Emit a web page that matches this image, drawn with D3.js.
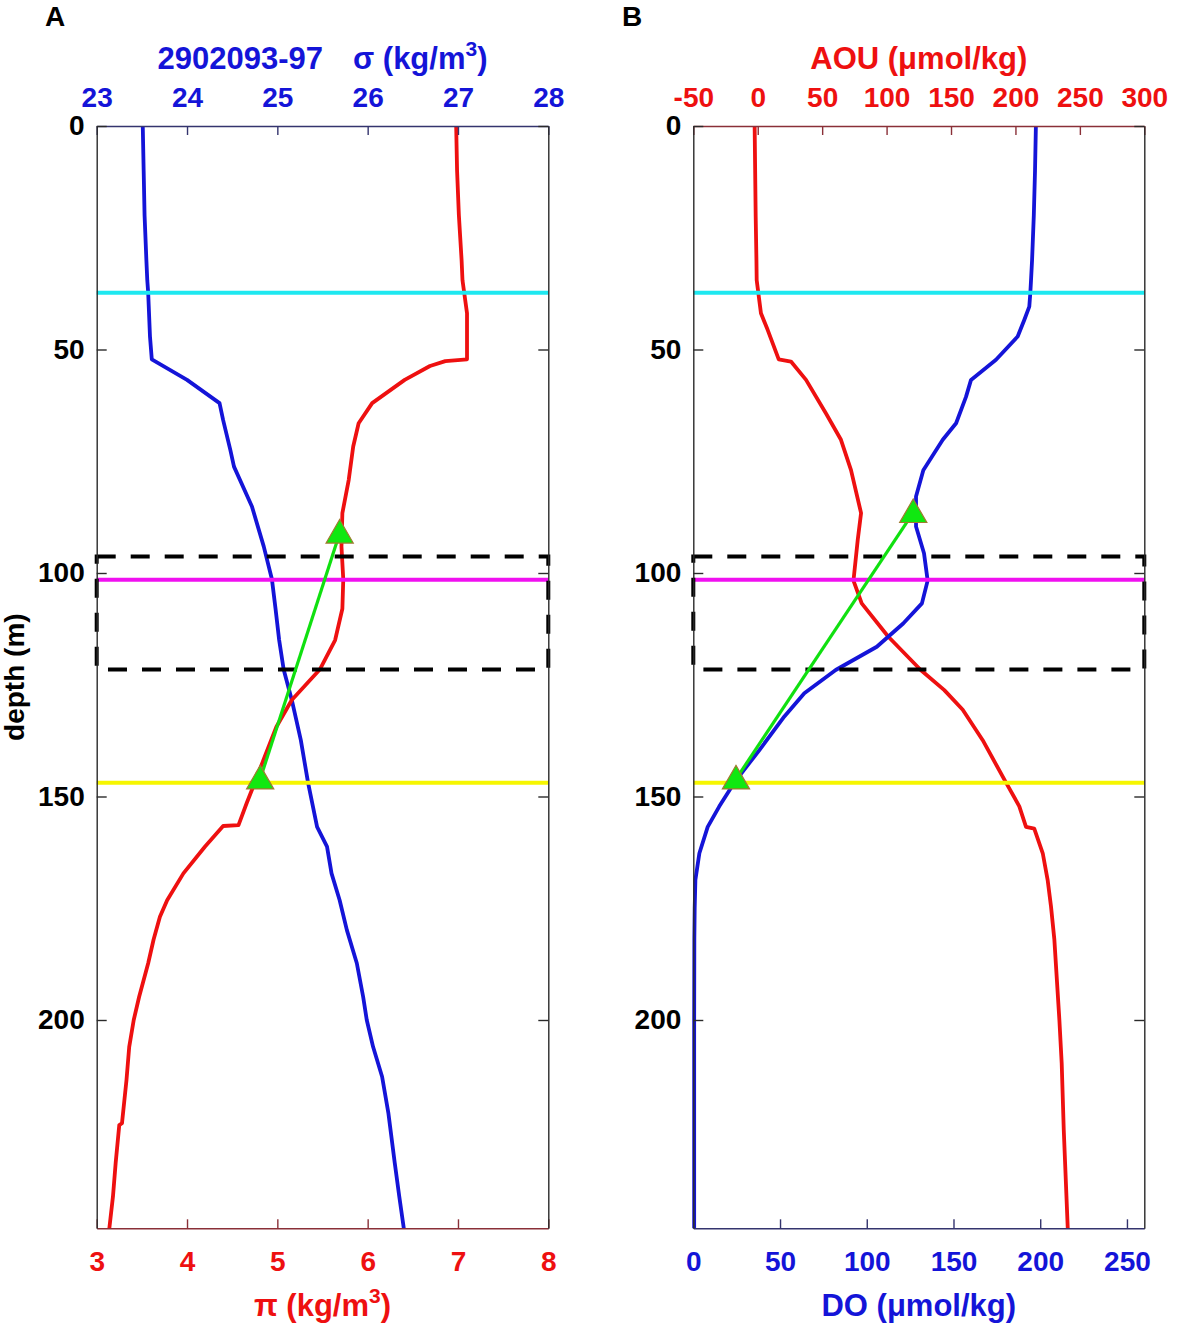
<!DOCTYPE html>
<html>
<head>
<meta charset="utf-8">
<script src="https://cdn.jsdelivr.net/npm/d3@7"></script>
<style>
  body { margin: 0; background: #fff; }
  svg { display: block; }
  text { font-family: "Liberation Sans", Arial, sans-serif; font-weight: bold; }
</style>
</head>
<body>
<div id="chart"></div>
<script>
// ---- data ----
// panel A: potential density sigma (top axis) and spiciness pi (bottom axis)
const sigmaDepth = [0, 10, 20, 30, 34.5, 37.3, 47.1, 52.2, 56.8, 62.0, 65.8, 72.5, 76.2, 85.2, 94.1, 101.4, 108, 115, 121.6, 128.4, 137.4, 146.9, 156.8, 161.2, 167.2, 173.2, 179.9, 187.3, 194.8, 200, 206, 212.7, 220.9, 232, 239.5, 246.6];
const sigmaVals  = [23.51, 23.52, 23.53, 23.55, 23.56, 23.57, 23.59, 23.61, 24.00, 24.36, 24.40, 24.48, 24.52, 24.72, 24.85, 24.94, 24.98, 25.02, 25.07, 25.16, 25.26, 25.34, 25.44, 25.55, 25.60, 25.69, 25.77, 25.88, 25.95, 25.99, 26.06, 26.16, 26.23, 26.30, 26.35, 26.40];

const piDepth = [0, 10, 20, 30, 34.5, 41.9, 52.2, 52.6, 53.7, 56.8, 62, 66.5, 71.7, 79.2, 86.6, 94.1, 101.4, 108, 115, 121.6, 128.4, 134.4, 141.1, 146.9, 151.5, 156.4, 156.6, 161.2, 167.2, 173.2, 176.9, 182, 187.3, 194.8, 200, 206, 213.4, 223.1, 223.5, 232, 239.5, 246.6];
const piVals  = [6.98, 6.99, 7.01, 7.04, 7.05, 7.10, 7.10, 6.86, 6.69, 6.41, 6.05, 5.90, 5.84, 5.79, 5.72, 5.71, 5.73, 5.72, 5.64, 5.47, 5.16, 4.99, 4.86, 4.75, 4.66, 4.57, 4.40, 4.20, 3.96, 3.78, 3.70, 3.63, 3.57, 3.47, 3.41, 3.36, 3.33, 3.28, 3.25, 3.21, 3.18, 3.14];

// panel B: AOU (top axis) and dissolved oxygen (bottom axis)
const aouDepth = [0, 10, 20, 30, 34.5, 41.9, 45.6, 52.2, 52.7, 56.8, 64.3, 70.2, 77.0, 86.6, 92.6, 101.7, 106.8, 114.2, 121.7, 126.2, 130.6, 137.4, 146.9, 152.2, 156.8, 157.2, 162.7, 168.7, 174.6, 182, 200, 209.7, 224.6, 246.6];
const aouVals  = [-2.4, -2.0, -1.6, -1.0, -0.8, 2.5, 7.7, 16.3, 25.8, 37.5, 53.0, 64.6, 72.4, 80.2, 77.6, 74.3, 80.7, 101.2, 126.5, 144.8, 159.1, 174.6, 192.7, 203.0, 208.2, 214.6, 221.2, 225.0, 227.6, 230.2, 234.1, 235.9, 237.5, 240.6];

const doDepth = [0, 10, 20, 30, 34.5, 37.3, 40.4, 43.4, 47.1, 52.3, 56.8, 60.6, 66.5, 70.2, 77.0, 82.9, 89.6, 95.6, 101.7, 106.8, 111.3, 116.5, 121.7, 126.9, 132.1, 139.6, 146.9, 152.2, 156.8, 162.7, 168.7, 175, 182, 200, 246.6];
const doVals  = [197.5, 197.0, 196.3, 195.3, 194.7, 194.3, 193.7, 190.8, 187.0, 174.5, 160.1, 157.2, 151.5, 143.8, 132.6, 128.4, 128.4, 133.0, 135.1, 131.8, 121.0, 105.8, 82.1, 64.0, 52.5, 38.1, 23.6, 15.0, 8.3, 3.5, 1.2, 0.8, 0.6, 0.5, 0.5];

// reference depths (m)
const cyanDepth = 37.3;
const magentaDepth = 101.5;
const yellowDepth = 146.9;
const layerDepths = [96.3, 121.6];

// green markers: [bottom, top]
const triPi = [4.81, 5.69];
const triDepthA = [146.1, 91.1];
const triDO = [24.6, 126.8];
const triDepthB = [146.1, 86.5];

// ticks
const depthTicks = [0, 50, 100, 150, 200];
const sigmaTicks = [23, 24, 25, 26, 27, 28];
const piTicks = [3, 4, 5, 6, 7, 8];
const aouTicks = [-50, 0, 50, 100, 150, 200, 250, 300];
const doTicks = [0, 50, 100, 150, 200, 250];

// ---- layout ----
const W = 1181, H = 1331;
const yTop = 126, yBottom = 1228.3;
const depthMax = 246.6;
const tickFont = 28, titleFont = 31;

const svg = d3.select("#chart").append("svg")
  .attr("width", W)
  .attr("height", H);

const y = d3.scaleLinear().domain([0, depthMax]).range([yTop, yBottom]);

const BLUE = "#1414d8", RED = "#ee1010";
const BLUE_AX = "#34346e", RED_AX = "#8a3038";
const fmt = d => String(d);

function styleAxis(g, color, textColor) {
  g.select(".domain").attr("stroke", color).attr("stroke-width", 1.4);
  g.selectAll(".tick line").attr("stroke", color).attr("stroke-width", 1.4);
  g.selectAll(".tick text")
    .attr("fill", textColor)
    .attr("font-size", tickFont)
    .attr("font-family", "\"Liberation Sans\", Arial, sans-serif")
    .attr("font-weight", "bold");
}

function drawPanel(p) {
  const g = svg.append("g");
  const xTop = d3.scaleLinear().domain(p.topDomain).range([p.x0, p.x1]);
  const xBot = d3.scaleLinear().domain(p.botDomain).range([p.x0, p.x1]);

  // profiles
  const lineTop = d3.line().x((d, i) => xTop(p.topVals[i])).y(d => y(d));
  const lineBot = d3.line().x((d, i) => xBot(p.botVals[i])).y(d => y(d));
  g.append("path").datum(p.topDepth)
    .attr("d", lineTop).attr("fill", "none")
    .attr("stroke", p.topColor).attr("stroke-width", 3.8)
    .attr("stroke-linejoin", "round");
  g.append("path").datum(p.botDepth)
    .attr("d", lineBot).attr("fill", "none")
    .attr("stroke", p.botColor).attr("stroke-width", 3.8)
    .attr("stroke-linejoin", "round");

  // reference lines
  [[cyanDepth, "#1ee8f0"], [magentaDepth, "#f010f0"], [yellowDepth, "#f6f600"]].forEach(([d, c]) => {
    g.append("line")
      .attr("x1", p.x0).attr("x2", p.x1)
      .attr("y1", y(d)).attr("y2", y(d))
      .attr("stroke", c).attr("stroke-width", 4);
  });

  // dashed layer box
  g.append("rect")
    .attr("x", p.x0).attr("y", y(layerDepths[0]))
    .attr("width", p.x1 - p.x0)
    .attr("height", y(layerDepths[1]) - y(layerDepths[0]))
    .attr("fill", "none").attr("stroke", "#000")
    .attr("stroke-width", 4).attr("stroke-dasharray", "19,15");

  // green segment and markers (bottom axis units)
  const gl = d3.line().x((d, i) => xBot(p.triVals[i])).y(d => y(d));
  g.append("path").datum(p.triDepth)
    .attr("d", gl).attr("fill", "none")
    .attr("stroke", "#10e010").attr("stroke-width", 3.2);
  g.selectAll(".tri").data(p.triDepth).enter().append("path")
    .attr("class", "tri")
    .attr("d", d3.symbol(d3.symbolTriangle, 320))
    .attr("transform", (d, i) => "translate(" + xBot(p.triVals[i]) + "," + (y(d) + 2) + ")")
    .attr("fill", "#10e810").attr("stroke", "#a07a30").attr("stroke-width", 1.2);

  // axes
  const aTop = g.append("g").attr("transform", "translate(0," + yTop + ")")
    .call(d3.axisTop(xTop).tickValues(p.topTicks).tickFormat(fmt)
      .tickSize(-9).tickSizeOuter(0).tickPadding(19));
  styleAxis(aTop, p.topAxColor, p.topColor);
  const aBot = g.append("g").attr("transform", "translate(0," + yBottom + ")")
    .call(d3.axisBottom(xBot).tickValues(p.botTicks).tickFormat(fmt)
      .tickSize(-9).tickSizeOuter(0).tickPadding(23));
  styleAxis(aBot, p.botAxColor, p.botColor);
  const aLeft = g.append("g").attr("transform", "translate(" + p.x0 + ",0)")
    .call(d3.axisLeft(y).tickValues(depthTicks).tickFormat(fmt)
      .tickSize(-10).tickSizeOuter(0).tickPadding(12));
  styleAxis(aLeft, "#2a2a2a", "#000");
  const aRight = g.append("g").attr("transform", "translate(" + p.x1 + ",0)")
    .call(d3.axisRight(y).tickValues(depthTicks).tickSize(-10).tickSizeOuter(0).tickFormat(""));
  styleAxis(aRight, "#2a2a2a", "#000");

  // axis titles
  const cx = (p.x0 + p.x1) / 2;
  const tt = g.append("text").attr("x", cx).attr("y", 69)
    .attr("text-anchor", "middle").attr("font-size", titleFont).attr("fill", p.topColor);
  p.topTitle(tt);
  const bt = g.append("text").attr("x", cx).attr("y", 1316)
    .attr("text-anchor", "middle").attr("font-size", titleFont).attr("fill", p.botColor);
  p.botTitle(bt);

  // panel letter
  g.append("text").attr("x", p.letterX).attr("y", 26)
    .attr("font-size", 28).attr("fill", "#000").text(p.letter);
}

drawPanel({
  x0: 96.7, x1: 548.3,
  topDomain: [23, 28], botDomain: [3, 8],
  topTicks: sigmaTicks, botTicks: piTicks,
  topDepth: sigmaDepth, topVals: sigmaVals,
  botDepth: piDepth, botVals: piVals,
  topColor: BLUE, botColor: RED,
  topAxColor: BLUE_AX, botAxColor: RED_AX,
  triVals: triPi, triDepth: triDepthA,
  letter: "A", letterX: 45,
  topTitle: t => {
    t.append("tspan").text("2902093-97");
    t.append("tspan").attr("dx", 30).text("σ (kg/m");
    t.append("tspan").attr("dy", -13).attr("font-size", 21).text("3");
    t.append("tspan").attr("dy", 13).text(")");
  },
  botTitle: t => {
    t.append("tspan").text("π (kg/m");
    t.append("tspan").attr("dy", -13).attr("font-size", 21).text("3");
    t.append("tspan").attr("dy", 13).text(")");
  }
});

drawPanel({
  x0: 693.3, x1: 1144.3,
  topDomain: [-50, 300], botDomain: [0, 260],
  topTicks: aouTicks, botTicks: doTicks,
  topDepth: aouDepth, topVals: aouVals,
  botDepth: doDepth, botVals: doVals,
  topColor: RED, botColor: BLUE,
  topAxColor: RED_AX, botAxColor: BLUE_AX,
  triVals: triDO, triDepth: triDepthB,
  letter: "B", letterX: 622,
  topTitle: t => t.text("AOU (μmol/kg)"),
  botTitle: t => t.text("DO (μmol/kg)")
});

// shared y label
svg.append("text")
  .attr("transform", "translate(24," + ((yTop + yBottom) / 2) + ") rotate(-90)")
  .attr("text-anchor", "middle")
  .attr("font-size", 28).attr("fill", "#000")
  .text("depth (m)");
</script>
</body>
</html>
